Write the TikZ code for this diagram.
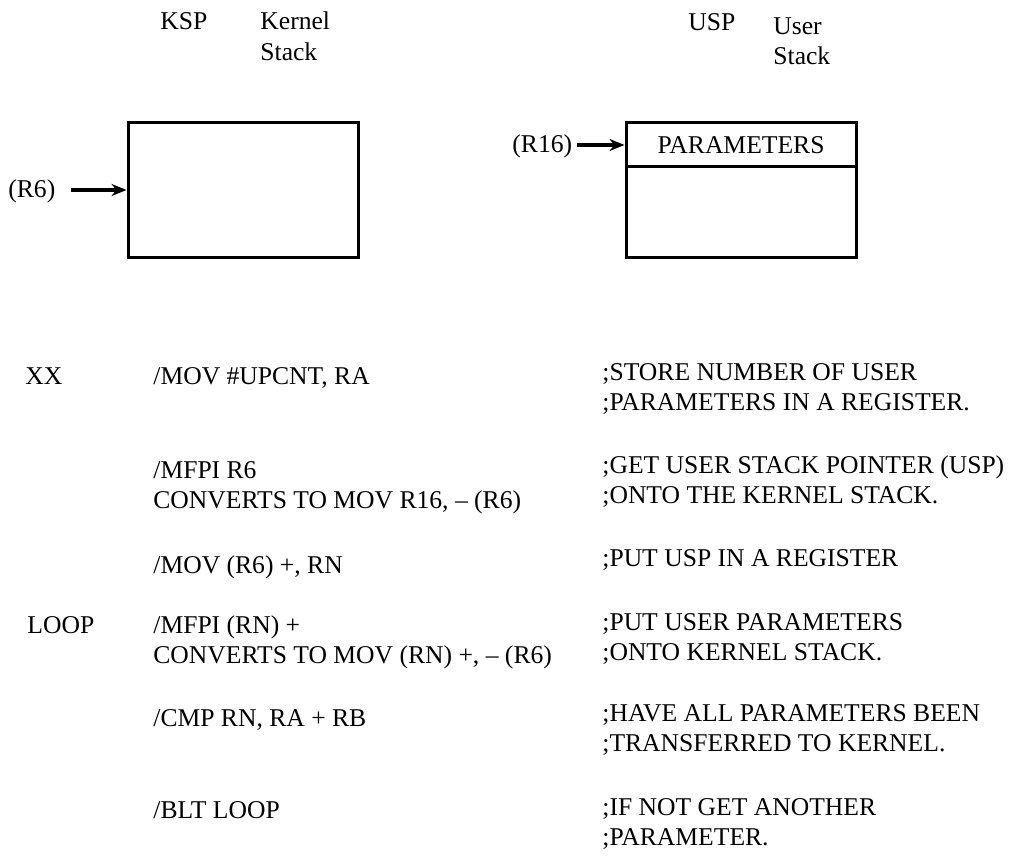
\documentclass[tikz,border=0pt]{standalone}
\usepackage{fontspec}
\setmainfont{Liberation Serif}
\usetikzlibrary{arrows.meta}
\usetikzlibrary{positioning}

\begin{document}
\begin{tikzpicture}
  [x=0.5pt, y=-0.5pt,
  every node/.style={font=\fontsize{12.8}{15}\selectfont},
  txt/.style={inner sep=0pt,anchor=base west},
  stackbox/.style={draw=black,line width=1.5pt,inner sep=0pt,minimum width=115pt},
  ptr/.style={-{Stealth[length=7.5pt,width=6pt]},line width=1.8pt}]
  \useasboundingbox (0,0) rectangle (1010,861);

  % kernel stack
  \node[txt] (ksp) at (160,30) {KSP};
  \node[txt] (kname1) at (260,30) {Kernel};
  \node[txt] (kname2) at (260,61) {Stack};
  \node[stackbox,minimum height=67pt] (kstack) at (243,190) {};
  \node[txt] (r6) at (8,198) {(R6)};
  \draw[ptr,shorten <=7.5pt] (r6.east |- kstack.west) -- (kstack.west);

  % user stack
  \node[txt] (usp) at (688,31) {USP};
  \node[txt] (uname1) at (773,35) {User};
  \node[txt] (uname2) at (773,65) {Stack};
  \node[stackbox,minimum height=67pt] (ustack) at (741,190) {};
  \node[stackbox,minimum height=22pt,anchor=north] (params) at (ustack.north) {PARAMETERS};
  \node[txt] (r16) at (512,153) {(R16)};
  \draw[ptr,shorten <=2pt] (r16.east |- params.west) -- (params.west);

  % labels
  \node[txt] (lxx) at (25,384) {XX};
  \node[txt] (lloop) at (27,633) {LOOP};

  % instructions
  \node[txt] (op1) at (153,384) {/MOV \#UPCNT, RA};
  \node[txt] (op2a) at (153,478) {/MFPI R6};
  \node[txt] (op2b) at (153,508) {CONVERTS TO MOV R16, \textendash\ (R6)};
  \node[txt] (op3) at (153,573) {/MOV (R6) +, RN};
  \node[txt] (op4a) at (153,633) {/MFPI (RN) +};
  \node[txt] (op4b) at (153,663) {CONVERTS TO MOV (RN) +, \textendash\ (R6)};
  \node[txt] (op5) at (153,726) {/CMP RN, RA + RB};
  \node[txt] (op6) at (153,818) {/BLT LOOP};

  % comments
  \node[txt] (cm1a) at (602,380) {;STORE NUMBER OF USER};
  \node[txt] (cm1b) at (602,410) {;PARAMETERS IN A REGISTER.};
  \node[txt] (cm2a) at (602,473) {;GET USER STACK POINTER (USP)};
  \node[txt] (cm2b) at (602,503) {;ONTO THE KERNEL STACK.};
  \node[txt] (cm3) at (602,566) {;PUT USP IN A REGISTER};
  \node[txt] (cm4a) at (602,630) {;PUT USER PARAMETERS};
  \node[txt] (cm4b) at (602,660) {;ONTO KERNEL STACK.};
  \node[txt] (cm5a) at (602,721) {;HAVE ALL PARAMETERS BEEN};
  \node[txt] (cm5b) at (602,751) {;TRANSFERRED TO KERNEL.};
  \node[txt] (cm6a) at (602,815) {;IF NOT GET ANOTHER};
  \node[txt] (cm6b) at (602,845) {;PARAMETER.};
\end{tikzpicture}
\end{document}
